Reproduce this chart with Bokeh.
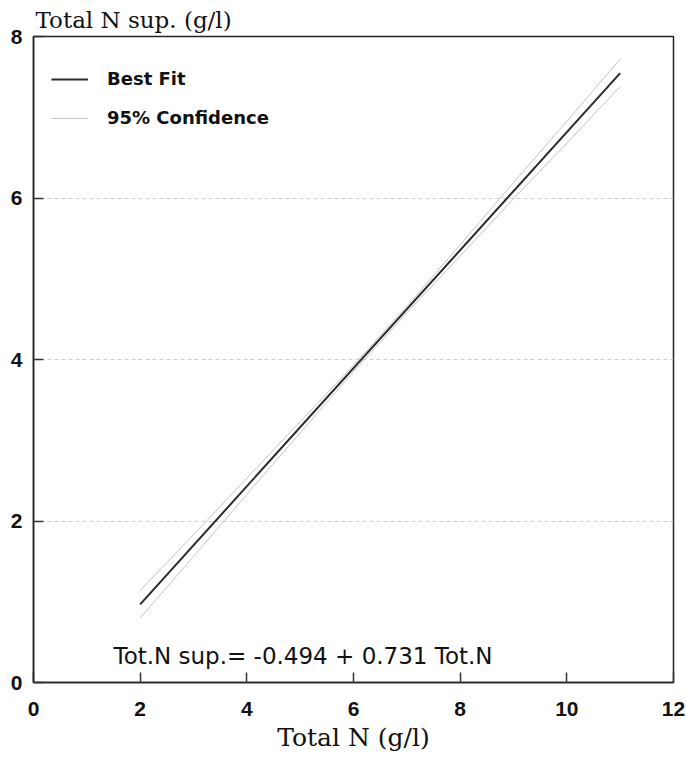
from bokeh.plotting import figure
from bokeh.models import Legend, LegendItem, FixedTicker, Label
from bokeh.embed import file_html
from bokeh.resources import INLINE

# Data
fit_x = [2, 11]
fit_y = [0.968, 7.547]
ci_x = [2, 3, 4, 5, 6, 7, 8, 9, 10, 11]
ci_upper = [1.14, 1.83, 2.53, 3.23, 3.93, 4.66, 5.42, 6.19, 6.95, 7.72]
ci_lower = [0.80, 1.56, 2.33, 3.09, 3.85, 4.58, 5.28, 5.99, 6.68, 7.38]
x_ticks = [0, 2, 4, 6, 8, 10, 12]
y_ticks = [0, 2, 4, 6, 8]
equation = "Tot.N sup.= -0.494 + 0.731 Tot.N"
x_title = "Total N (g/l)"
y_title = "Total N sup. (g/l)"

p = figure(width=686, height=758, x_range=(0, 12), y_range=(0, 8),
           output_backend="svg", toolbar_location=None,
           min_border_left=33, min_border_right=13,
           min_border_top=0, min_border_bottom=76)
p.background_fill_color = "white"
p.border_fill_color = "white"
p.outline_line_color = "#222222"
p.outline_line_width = 1.5

p.title.text = y_title
p.title.align = "left"
p.title.offset = 2
p.title.standoff = 8
p.title.text_font = "DejaVu Serif"
p.title.text_font_style = "normal"
p.title.text_font_size = "23px"
p.title.text_color = "#111111"

p.xgrid.visible = False
p.ygrid.ticker = FixedTicker(ticks=[2, 4, 6])
p.ygrid.grid_line_color = "#cfcfcf"
p.ygrid.grid_line_dash = "4 3"
p.ygrid.grid_line_width = 1

for ax in (p.xaxis[0], p.yaxis[0]):
    ax.axis_line_color = "#222222"
    ax.axis_line_width = 1.5
    ax.major_tick_in = 10
    ax.major_tick_out = 0
    ax.minor_tick_in = 0
    ax.minor_tick_out = 0
    ax.major_tick_line_color = "#333333"
    ax.major_tick_line_width = 1.5
    ax.major_label_text_font = "Liberation Sans"
    ax.major_label_text_font_style = "bold"
    ax.major_label_text_font_size = "21px"
    ax.major_label_text_color = "#111111"

p.xaxis.ticker = FixedTicker(ticks=x_ticks)
p.yaxis.ticker = FixedTicker(ticks=y_ticks)
p.xaxis.major_label_standoff = 19
p.yaxis.major_label_standoff = 11
p.xaxis.axis_label = x_title
p.xaxis.axis_label_text_font = "DejaVu Serif"
p.xaxis.axis_label_text_font_style = "normal"
p.xaxis.axis_label_text_font_size = "25px"
p.xaxis.axis_label_text_color = "#111111"
p.xaxis.axis_label_standoff = 4

r_fit = p.line(fit_x, fit_y, line_color="#2a2a2a", line_width=2)
r_up = p.line(ci_x, ci_upper, line_color="#c4c4c4", line_width=1)
p.line(ci_x, ci_lower, line_color="#c4c4c4", line_width=1)

legend = Legend(items=[LegendItem(label="Best Fit", renderers=[r_fit]),
                       LegendItem(label="95% Confidence", renderers=[r_up])],
                location=(8, 544), orientation="vertical",
                glyph_width=37, glyph_height=20, label_standoff=19,
                spacing=18, padding=10, margin=0,
                label_text_font="DejaVu Sans", label_text_font_style="bold",
                label_text_font_size="18px", label_text_color="#111111",
                background_fill_alpha=0, border_line_alpha=0)
p.add_layout(legend)

p.add_layout(Label(x=1.5, y=0.33, text=equation, text_font="DejaVu Sans",
                   text_font_size="23px", text_color="#111111",
                   text_baseline="alphabetic"))

open("out.html", "w").write(file_html(p, INLINE))
